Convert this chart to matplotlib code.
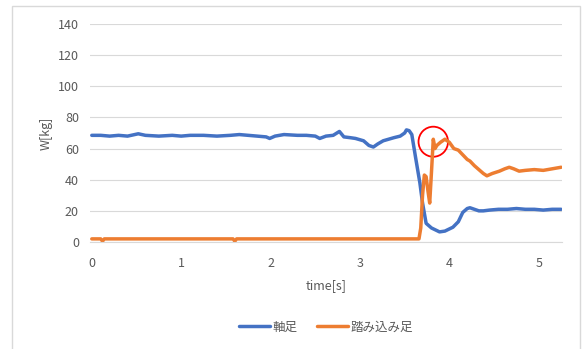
import matplotlib
matplotlib.use("Agg")
import matplotlib.pyplot as plt
from matplotlib.patches import Ellipse, Rectangle

plt.rcParams['font.family'] = ['Noto Sans CJK JP', 'DejaVu Sans']

# 軸足 (pivot foot)
t_jiku = [0.00, 0.10, 0.20, 0.30, 0.40, 0.52, 0.60, 0.75, 0.90, 1.00, 1.10, 1.25,
          1.40, 1.55, 1.65, 1.75, 1.85, 1.95, 1.99, 2.05, 2.15, 2.30, 2.40, 2.50,
          2.55, 2.62, 2.70, 2.77, 2.82, 2.89, 2.95, 3.04, 3.10, 3.15, 3.20, 3.26,
          3.32, 3.38, 3.45, 3.50, 3.52, 3.55, 3.58, 3.62, 3.67, 3.70, 3.74, 3.80,
          3.89, 3.95, 4.04, 4.10, 4.15, 4.20, 4.23, 4.28, 4.33, 4.38, 4.45, 4.55,
          4.65, 4.75, 4.85, 4.95, 5.05, 5.15, 5.25]
w_jiku = [68.5, 68.5, 68.0, 68.5, 68.0, 69.5, 68.5, 68.0, 68.5, 68.0, 68.5, 68.5,
          68.0, 68.5, 69.0, 68.5, 68.0, 67.5, 66.5, 68.0, 69.0, 68.5, 68.5, 68.0,
          66.5, 68.0, 68.5, 71.0, 67.5, 67.0, 66.5, 65.0, 62.0, 61.0, 63.0, 65.0,
          66.0, 67.0, 68.0, 70.0, 72.0, 71.5, 69.0, 55.0, 38.0, 25.0, 12.0, 9.0,
          6.5, 7.0, 9.5, 13.0, 19.0, 21.5, 22.0, 21.0, 20.0, 20.0, 20.5, 21.0,
          21.0, 21.5, 21.0, 21.0, 20.5, 21.0, 21.0]

# 踏み込み足 (stepping foot)
t_fumi = [0.00, 0.10, 0.12, 0.14, 0.50, 1.00, 1.58, 1.60, 1.62, 2.00, 2.50, 3.00,
          3.50, 3.66, 3.68, 3.70, 3.72, 3.74, 3.76, 3.78, 3.80, 3.82, 3.84, 3.86,
          3.90, 3.95, 4.00, 4.05, 4.10, 4.15, 4.20, 4.23, 4.28, 4.34, 4.38, 4.42,
          4.48, 4.56, 4.62, 4.67, 4.72, 4.78, 4.85, 4.95, 5.05, 5.15, 5.25]
w_fumi = [2.0, 2.0, 0.5, 2.0, 2.0, 2.0, 2.0, 0.5, 2.0, 2.0, 2.0, 2.0,
          2.0, 2.0, 9.0, 30.0, 43.0, 42.0, 33.0, 25.0, 45.0, 66.0, 60.0, 62.0,
          64.0, 66.0, 64.0, 60.0, 59.0, 56.0, 53.0, 52.0, 49.0, 46.0, 44.0, 42.5,
          44.0, 45.5, 47.0, 48.0, 47.0, 45.5, 46.0, 46.5, 46.0, 47.0, 48.0]

fig = plt.figure(figsize=(5.82, 3.49), dpi=100)
fig.patches.append(Rectangle((12 / 582, -0.05), 568 / 582, 1.05 - 6 / 349,
                             transform=fig.transFigure, fill=False,
                             edgecolor='#d9d9d9', linewidth=1.0))
ax = fig.add_axes([90 / 582, 107 / 349, 472 / 582, 218 / 349])

ax.plot(t_jiku, w_jiku, color='#4472C4', linewidth=2.5, label='軸足',
        solid_capstyle='round', solid_joinstyle='round')
ax.plot(t_fumi, w_fumi, color='#ED7D31', linewidth=2.5, label='踏み込み足',
        solid_capstyle='round', solid_joinstyle='round')

ax.add_patch(Ellipse((3.82, 64.4), 0.33, 19.3, fill=False,
                     edgecolor='#FF0000', linewidth=1.3))

ax.set_xlim(-0.02, 5.26)
ax.set_ylim(0, 140)
ax.set_yticks(range(0, 141, 20))
ax.set_xticks(range(0, 6))
ax.grid(axis='y', color='#d9d9d9', linewidth=0.8)
ax.set_axisbelow(True)
for s in ['top', 'right', 'left']:
    ax.spines[s].set_visible(False)
ax.spines['bottom'].set_color('#d9d9d9')
ax.tick_params(length=0, colors='#595959', labelsize=9, pad=8)
ax.tick_params(axis='x', pad=11)

ax.set_xlabel('time[s]', color='#595959', fontsize=9, labelpad=6)
ax.set_ylabel('W[kg]', color='#595959', fontsize=9, labelpad=4)

ax.legend(loc='upper center', bbox_to_anchor=(0.5, -0.31), ncol=2, frameon=False,
          fontsize=9, labelcolor='#595959', handlelength=2.5, columnspacing=1.5,
          handletextpad=0.2)

fig.savefig('out.png', dpi=100)
